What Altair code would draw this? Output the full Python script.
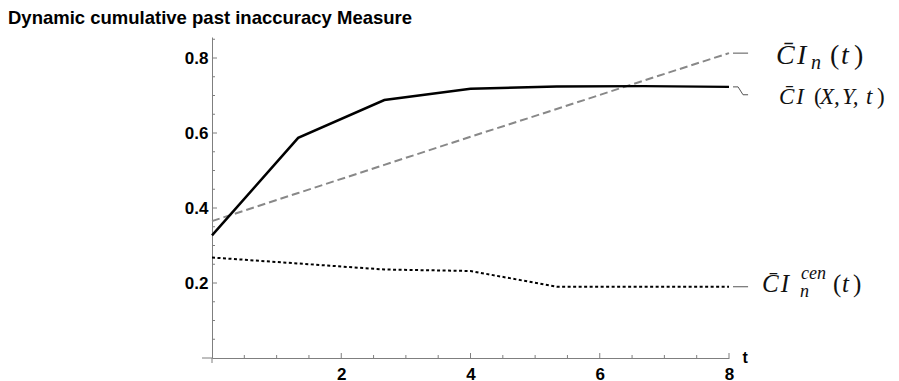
import altair as alt
import pandas as pd

# ---- data ----
t_vals = [0, 4 / 3, 8 / 3, 4, 16 / 3, 20 / 3, 8]
ci_xy = [0.327, 0.587, 0.688, 0.718, 0.724, 0.725, 0.723]   # solid black
ci_n = [0.365, 0.440, 0.515, 0.590, 0.664, 0.739, 0.813]    # dashed gray
ci_cen = [0.268, 0.252, 0.236, 0.232, 0.190, 0.190, 0.190]  # dotted black

x_major = [2, 4, 6, 8]
x_minor = [0.5, 1, 1.5, 2.5, 3, 3.5, 4.5, 5, 5.5, 6.5, 7, 7.5]
y_major = [0.2, 0.4, 0.6, 0.8]
y_minor = [0.05, 0.1, 0.15, 0.25, 0.3, 0.35, 0.45, 0.5, 0.55, 0.65, 0.7, 0.75, 0.85]

title_text = "Dynamic cumulative past inaccuracy Measure"

# ---- layout / style ----
W, H = 517, 321
GRAY = "#7f7f7f"
SANS = "Liberation Sans"
SERIF = "Liberation Serif"
xs = alt.Scale(domain=[0, 8], nice=False, zero=False)
ys = alt.Scale(domain=[0, 0.856], nice=False, zero=False)

df = pd.DataFrame({"t": t_vals, "xy": ci_xy, "n": ci_n, "cen": ci_cen})

xaxis = alt.Axis(values=x_major, format="d", ticks=False, grid=False,
                 domainColor=GRAY, labelFont=SANS, labelFontSize=17,
                 labelFontWeight="bold", labelColor="black", labelPadding=8,
                 labelFlush=False, title="t", titleX=W + 13, titleY=-1,
                 titleAlign="left", titleBaseline="middle", titleFont=SANS,
                 titleFontSize=16, titleFontWeight="bold", titleColor="black")
yaxis = alt.Axis(values=y_major, format=".1f", ticks=False, grid=False,
                 domainColor=GRAY, labelFont=SANS, labelFontSize=17,
                 labelFontWeight="bold", labelColor="black", labelPadding=4,
                 title=None)


def X(field):
    return alt.X(field, scale=xs, axis=xaxis)


def Y(field):
    return alt.Y(field, scale=ys, axis=yaxis)


def line(col, **kw):
    return alt.Chart(df).mark_line(**kw).encode(x=X("t:Q"), y=Y(f"{col}:Q"))


dashed = line("n", color="#888888", strokeWidth=2, strokeDash=[8, 4])
solid = line("xy", color="black", strokeWidth=2.5)
dotted = line("cen", color="black", strokeWidth=2, strokeDash=[3, 2.5])


# tick marks (inward, Mathematica style)
def yticks(vals, length):
    return alt.Chart(pd.DataFrame({"v": vals})).mark_rule(color=GRAY).encode(
        y=Y("v:Q"), x=alt.value(0), x2=alt.value(length))


def xticks(vals, length):
    return alt.Chart(pd.DataFrame({"v": vals})).mark_rule(color=GRAY).encode(
        x=X("v:Q"), y=alt.value(H), y2=alt.value(H - length))


ticks = [yticks(y_major, 5), yticks(y_minor, 3), xticks(x_major, 5), xticks(x_minor, 3)]

# small overshoot of the axes past the origin
over_x = alt.Chart(pd.DataFrame({"a": [0]})).mark_rule(color=GRAY).encode(
    x=alt.value(-10), x2=alt.value(0), y=alt.value(H))
over_y = alt.Chart(pd.DataFrame({"a": [0]})).mark_rule(color=GRAY).encode(
    x=alt.value(0), y=alt.value(H), y2=alt.value(H + 5))

# leader lines next to the right-hand labels
end = t_vals[-1]
lead_rows = []
for g, yv in (("n", ci_n[-1]), ("cen", ci_cen[-1])):
    lead_rows += [{"g": g, "o": 0, "lx": end + 0.062, "ly": yv},
                  {"g": g, "o": 1, "lx": end + 0.295, "ly": yv}]
yv = ci_xy[-1]
lead_rows += [{"g": "xy", "o": 0, "lx": end + 0.062, "ly": yv},
              {"g": "xy", "o": 1, "lx": end + 0.14, "ly": yv},
              {"g": "xy", "o": 2, "lx": end + 0.217, "ly": yv - 0.021},
              {"g": "xy", "o": 3, "lx": end + 0.295, "ly": yv - 0.021}]
leaders = alt.Chart(pd.DataFrame(lead_rows)).mark_line(color="#555555", strokeWidth=1).encode(
    x=X("lx:Q"), y=Y("ly:Q"), detail="g:N", order="o:Q")


def piece(yval, s, dx, dy, size, style="italic"):
    return alt.Chart(pd.DataFrame({"x": [end], "y": [yval], "s": [s]})).mark_text(
        align="left", baseline="alphabetic", dx=dx, dy=dy, font=SERIF,
        fontStyle=style, fontSize=size, color="#111111").encode(
        x=X("x:Q"), y=Y("y:Q"), text="s:N")


CI = "C\u0304\u200aI"
labels = [
    piece(ci_n[-1], CI, 47, 11, 28),
    piece(ci_n[-1], "n", 82, 16, 20),
    piece(ci_n[-1], "(", 101, 11, 28, "normal"),
    piece(ci_n[-1], "t", 112, 11, 28),
    piece(ci_n[-1], ")", 125, 11, 28, "normal"),
    piece(ci_xy[-1], CI, 50, 17, 23),
    piece(ci_xy[-1], "(", 85, 17, 23, "normal"),
    piece(ci_xy[-1], "X,", 91, 17, 23),
    piece(ci_xy[-1], "Y,", 113, 17, 23),
    piece(ci_xy[-1], "t", 137, 17, 23),
    piece(ci_xy[-1], ")", 148, 17, 23, "normal"),
    piece(ci_cen[-1], CI, 33, 5, 25),
    piece(ci_cen[-1], "cen", 72, -8, 18),
    piece(ci_cen[-1], "n", 71, 10, 18),
    piece(ci_cen[-1], "(", 104, 5, 25, "normal"),
    piece(ci_cen[-1], "t", 113, 5, 25),
    piece(ci_cen[-1], ")", 124, 5, 25, "normal"),
]

chart = alt.layer(dashed, solid, dotted, *ticks, over_x, over_y, leaders, *labels).properties(
    width=W, height=H,
    title=alt.TitleParams(text=title_text, anchor="start", frame="group", dx=-204,
                          dy=18, offset=13, baseline="alphabetic", font=SANS, fontSize=18.5,
                          fontWeight="bold", color="black"),
    autosize=alt.AutoSizeParams(type="none"),
    padding={"left": 204, "top": 29, "right": 162, "bottom": 30},
).configure_view(stroke=None)

chart.save("out.html", embed_options={"renderer": "svg", "actions": False})
